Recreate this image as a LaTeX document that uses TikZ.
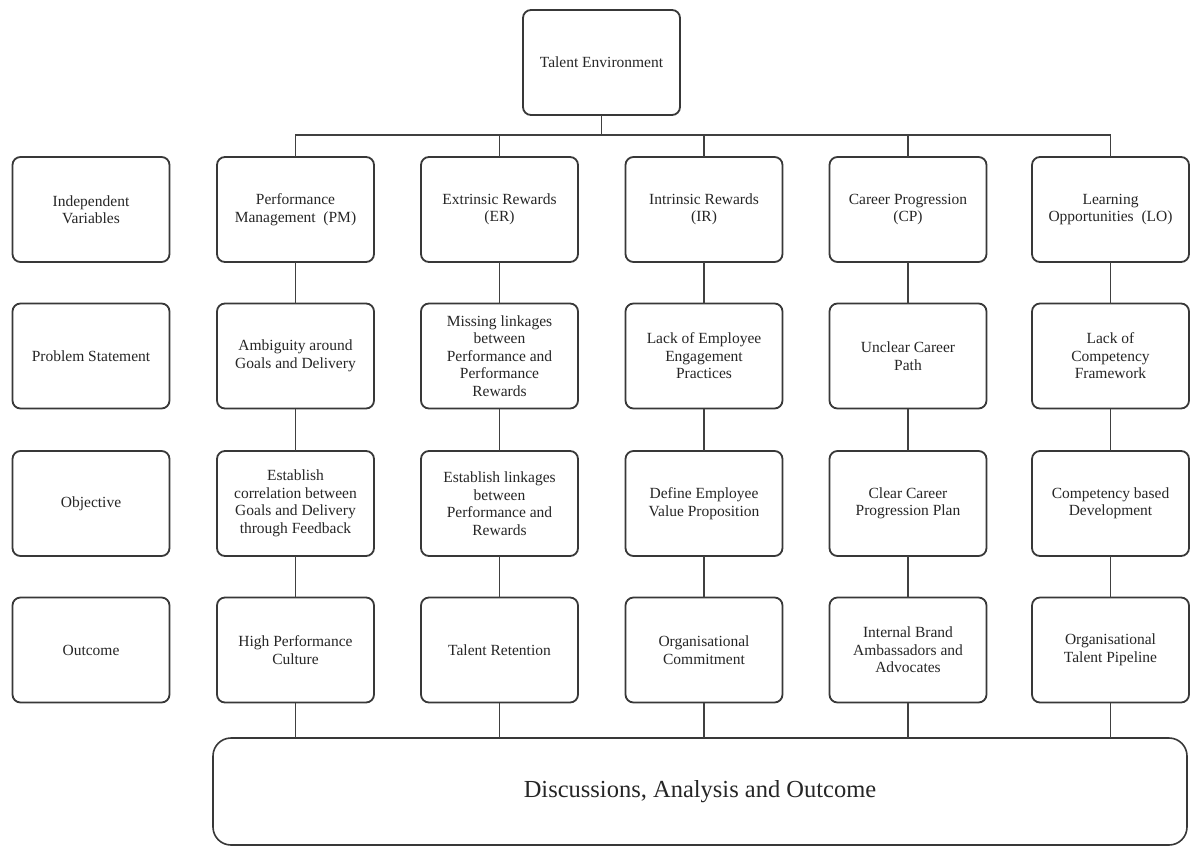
\documentclass[tikz,border=0pt]{standalone}
\usepackage{fontspec}
\setmainfont{Liberation Serif}
\begin{document}
\begin{tikzpicture}[x=1pt,y=-1pt,
  box/.style={draw=black!78, line width=1.8pt, rounded corners=8pt, minimum width=157pt, minimum height=105pt, inner sep=2pt, outer sep=0pt, align=center, text=black!85, font=\fontsize{15.5}{17.5}\selectfont},
  bigbox/.style={draw=black!78, line width=1.6pt, rounded corners=18pt, minimum width=974pt, minimum height=107pt, inner sep=0pt, outer sep=0pt, text=black!85, font=\fontsize{24.5}{28}\selectfont},
  link/.style={draw=black!75, line width=1.3pt}]
\useasboundingbox (0,0) rectangle (1190,847);
\fill[white] (0,0) rectangle (1190,847);

\node[box] (top) at (601.5,62.5) {Talent Environment};

% left labels
\node[box] (l1) at (91,209.5) {Independent\\Variables};
\node[box] (l2) at (91,356) {Problem Statement};
\node[box] (l3) at (91,503.5) {Objective};
\node[box] (l4) at (91,650) {Outcome};

% PM
\node[box] (pm1) at (295.5,209.5) {Performance\\Management\ \ (PM)};
\node[box] (pm2) at (295.5,356) {Ambiguity around\\Goals and Delivery};
\node[box] (pm3) at (295.5,503.5) {Establish\\correlation between\\Goals and Delivery\\through Feedback};
\node[box] (pm4) at (295.5,650) {High Performance\\Culture};

% ER
\node[box] (er1) at (499.5,209.5) {Extrinsic Rewards\\(ER)};
\node[box] (er2) at (499.5,356) {Missing linkages\\between\\Performance and\\Performance\\Rewards};
\node[box] (er3) at (499.5,503.5) {Establish linkages\\between\\Performance and\\Rewards};
\node[box] (er4) at (499.5,650) {Talent Retention};

% IR
\node[box] (ir1) at (704,209.5) {Intrinsic Rewards\\(IR)};
\node[box] (ir2) at (704,356) {Lack of Employee\\Engagement\\Practices};
\node[box] (ir3) at (704,503.5) {Define Employee\\Value Proposition};
\node[box] (ir4) at (704,650) {Organisational\\Commitment};

% CP
\node[box] (cp1) at (908,209.5) {Career Progression\\(CP)};
\node[box] (cp2) at (908,356) {Unclear Career\\Path};
\node[box] (cp3) at (908,503.5) {Clear Career\\Progression Plan};
\node[box] (cp4) at (908,650) {Internal Brand\\Ambassadors and\\Advocates};

% LO
\node[box] (lo1) at (1110.5,209.5) {Learning\\Opportunities\ \ (LO)};
\node[box] (lo2) at (1110.5,356) {Lack of\\Competency\\Framework};
\node[box] (lo3) at (1110.5,503.5) {Competency based\\Development};
\node[box] (lo4) at (1110.5,650) {Organisational\\Talent Pipeline};

% bottom
\node[bigbox] (bot) at (700,791.5) {Discussions, Analysis and Outcome};

% bus
\coordinate (bus) at (601.5,135);
\draw[link] (top.south) -- (top.south |- bus);
\draw[link] (pm1.north) -- (pm1.north |- bus) -- (lo1.north |- bus) -- (lo1.north);
\foreach \c in {er,ir,cp} {
  \draw[link] (\c1.north) -- (\c1.north |- bus);
}
\foreach \c in {pm,er,ir,cp,lo} {
  \draw[link] (\c1.south) -- (\c2.north);
  \draw[link] (\c2.south) -- (\c3.north);
  \draw[link] (\c3.south) -- (\c4.north);
  \draw[link] (\c4.south) -- (\c4.south |- bot.north);
}
\end{tikzpicture}
\end{document}
